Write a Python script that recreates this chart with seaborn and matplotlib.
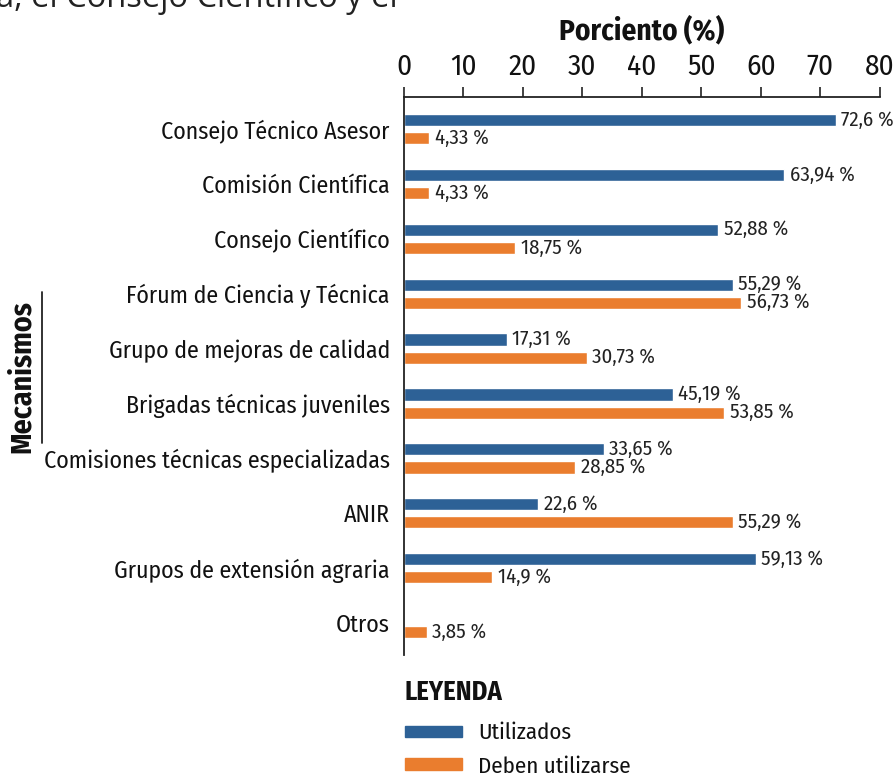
import matplotlib
matplotlib.use("Agg")
import matplotlib.pyplot as plt
import seaborn as sns
import pandas as pd
import numpy as np
from matplotlib.patches import Rectangle

categories = [
    "Consejo Técnico Asesor",
    "Comisión Científica",
    "Consejo Científico",
    "Fórum de Ciencia y Técnica",
    "Grupo de mejoras de calidad",
    "Brigadas técnicas juveniles",
    "Comisiones técnicas especializadas",
    "ANIR",
    "Grupos de extensión agraria",
    "Otros",
]
utilizados = [72.6, 63.94, 52.88, 55.29, 17.31, 45.19, 33.65, 22.6, 59.13, 0]
deben = [4.33, 4.33, 18.75, 56.73, 30.73, 53.85, 28.85, 55.29, 14.9, 3.85]
utilizados_lbl = ["72,6 %", "63,94 %", "52,88 %", "55,29 %", "17,31 %", "45,19 %", "33,65 %", "22,6 %", "59,13 %", ""]
deben_lbl = ["4,33 %", "4,33 %", "18,75 %", "56,73 %", "30,73 %", "53,85 %", "28,85 %", "55,29 %", "14,9 %", "3,85 %"]
series = ["Utilizados", "Deben utilizarse"]
xticks = [0, 10, 20, 30, 40, 50, 60, 70, 80]

BLUE = "#2d6196"
ORANGE = "#ea7d2e"

sns.set_theme(style="white")
FONT = ["Fira Sans Condensed", "Roboto Condensed", "Open Sans Condensed", "Roboto", "DejaVu Sans"]
plt.rcParams["font.family"] = FONT

df = pd.DataFrame({
    "Mecanismo": categories * 2,
    "Serie": [series[0]] * len(categories) + [series[1]] * len(categories),
    "Valor": utilizados + deben,
})

fig = plt.figure(figsize=(8.95, 7.77), dpi=100)
ax = fig.add_axes([0.451, 0.157, 0.532, 0.718])

sns.barplot(data=df, y="Mecanismo", x="Valor", hue="Serie", order=categories,
            hue_order=series, palette=[BLUE, ORANGE], orient="h",
            width=0.66, gap=0.33, saturation=1, legend=False, ax=ax, errorbar=None)

ax.set_xlim(0, 80)
ax.set_ylim(9.58, -0.58)
ax.xaxis.tick_top()
ax.xaxis.set_label_position("top")
ax.set_xticks(xticks)
ax.set_xticklabels([str(t) for t in xticks], fontsize=21, color="#111111")
ax.tick_params(axis="x", direction="out", length=7, width=1.2, pad=5, color="#222222")
ax.tick_params(axis="y", length=0, pad=10, labelsize=17.2, labelcolor="#111111")
ax.set_xlabel("Porciento (%)", fontsize=21, fontweight="bold", labelpad=9, color="#111111")
ax.set_ylabel("")
for s in ["right", "bottom"]:
    ax.spines[s].set_visible(False)
for s in ["top", "left"]:
    ax.spines[s].set_color("#222222")
    ax.spines[s].set_linewidth(1.3)
ax.grid(False)

# value labels
for cont, lbls in zip(ax.containers, [utilizados_lbl, deben_lbl]):
    ax.bar_label(cont, labels=lbls, padding=4, fontsize=15, color="#222222")

# y-axis title with rule
fig.text(0.025, 0.516, "Mecanismos", rotation=90, fontsize=21.5, fontweight="bold",
         ha="center", va="center", color="#111111")
fig.add_artist(plt.Line2D([0.047, 0.047], [0.430, 0.624], color="#222222", lw=1.3))

# legend block
fig.text(0.4525, 0.109, "LEYENDA", fontsize=19, fontweight="bold", ha="left", va="center", color="#111111")
fig.add_artist(Rectangle((0.4525, 0.0515), 0.064, 0.0142, transform=fig.transFigure, color=BLUE))
fig.text(0.534, 0.0566, series[0], fontsize=16.5, ha="left", va="center", color="#111111")
fig.add_artist(Rectangle((0.4525, 0.009), 0.064, 0.0155, transform=fig.transFigure, color=ORANGE))
fig.text(0.534, 0.0129, series[1], fontsize=16.5, ha="left", va="center", color="#111111")

# fragment of body text cut off at top
fig.text(-0.004, 0.9915, "a, el Consejo Científico y el", fontsize=23.5, ha="left", va="baseline",
         family=["Open Sans", "DejaVu Sans"], color="#222222")

fig.savefig("out.png", dpi=100)
